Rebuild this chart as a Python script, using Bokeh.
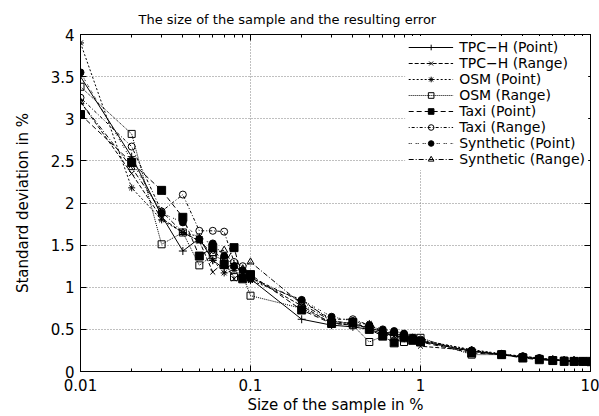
from bokeh.plotting import figure
from bokeh.models import (LogAxis, LinearAxis, FixedTicker, CustomJSTickFormatter,
                          CustomLabelingPolicy, Range1d, Legend, LegendItem, Title)
from bokeh.embed import file_html
from bokeh.resources import INLINE

# ---------------- data ----------------
sample_size = [0.01, 0.02, 0.03, 0.04, 0.05, 0.06, 0.07, 0.08, 0.09, 0.1,
               0.2, 0.3, 0.4, 0.5, 0.6, 0.7, 0.8, 0.9, 1,
               2, 3, 4, 5, 6, 7, 8, 9, 10]

tpch_point = [3.50, 2.55, 1.85, 1.43, 1.58, 1.32, 1.22, 1.28, 1.15, 1.10,
              0.62, 0.55, 0.53, 0.50, 0.45, 0.43, 0.40, 0.38, 0.36,
              0.24, 0.20, 0.17, 0.15, 0.14, 0.13, 0.13, 0.12, 0.12]
tpch_range = [3.20, 2.35, 1.82, 1.65, 1.55, 1.18, 1.30, 1.10, 1.15, 1.12,
              0.78, 0.57, 0.55, 0.52, 0.47, 0.42, 0.40, 0.38, 0.30,
              0.25, 0.20, 0.17, 0.15, 0.14, 0.13, 0.13, 0.12, 0.12]
osm_point = [3.90, 2.18, 1.80, 1.65, 1.60, 1.32, 1.17, 1.20, 1.13, 1.08,
             0.85, 0.60, 0.56, 0.57, 0.45, 0.46, 0.42, 0.39, 0.37,
             0.26, 0.21, 0.18, 0.16, 0.14, 0.13, 0.13, 0.12, 0.12]
osm_range = [3.38, 2.82, 1.51, 1.65, 1.26, 1.38, 1.32, 1.12, 1.14, 0.90,
             0.75, 0.58, 0.55, 0.35, 0.42, 0.44, 0.35, 0.40, 0.40,
             0.20, 0.20, 0.17, 0.15, 0.13, 0.13, 0.12, 0.12, 0.11]
taxi_point = [3.05, 2.48, 2.15, 1.83, 1.37, 1.47, 1.27, 1.47, 1.10, 1.15,
              0.73, 0.57, 0.58, 0.50, 0.42, 0.34, 0.40, 0.37, 0.35,
              0.22, 0.20, 0.16, 0.14, 0.13, 0.12, 0.12, 0.12, 0.12]
taxi_range = [3.25, 2.67, 1.90, 2.10, 1.67, 1.67, 1.66, 1.30, 1.25, 1.12,
              0.83, 0.62, 0.62, 0.55, 0.48, 0.46, 0.44, 0.40, 0.38,
              0.25, 0.20, 0.18, 0.15, 0.14, 0.13, 0.13, 0.12, 0.12]
synth_point = [3.55, 2.50, 1.88, 1.77, 1.57, 1.52, 1.37, 1.25, 1.20, 1.10,
               0.85, 0.65, 0.60, 0.55, 0.50, 0.48, 0.45, 0.40, 0.37,
               0.25, 0.21, 0.18, 0.16, 0.14, 0.13, 0.13, 0.12, 0.12]
synth_range = [3.20, 2.42, 1.90, 1.65, 1.55, 1.40, 1.44, 1.25, 1.22, 1.30,
               0.80, 0.60, 0.57, 0.52, 0.47, 0.45, 0.42, 0.38, 0.36,
               0.24, 0.20, 0.17, 0.15, 0.14, 0.13, 0.13, 0.12, 0.12]

series_names = ["TPC\u2212H (Point)", "TPC\u2212H (Range)", "OSM (Point)", "OSM (Range)",
                "Taxi (Point)", "Taxi (Range)", "Synthetic (Point)", "Synthetic (Range)"]
series_values = [tpch_point, tpch_range, osm_point, osm_range,
                 taxi_point, taxi_range, synth_point, synth_range]

x_major_ticks = [0.01, 0.1, 1, 10]
x_minor_ticks = [0.02, 0.03, 0.04, 0.05, 0.06, 0.07, 0.08, 0.09,
                 0.2, 0.3, 0.4, 0.5, 0.6, 0.7, 0.8, 0.9,
                 2, 3, 4, 5, 6, 7, 8, 9]
y_major_ticks = [0, 0.5, 1, 1.5, 2, 2.5, 3, 3.5, 4]

title_text = "The size of the sample and the resulting error"
x_label = "Size of the sample in %"
y_label = "Standard deviation in %"

# ---------------- styles ----------------
styles = [
    dict(dash="solid", marker="cross", size=8, fill=None),
    dict(dash="4 2", marker="x", size=7, fill=None),
    dict(dash="2 2", marker="asterisk", size=7, fill=None),
    dict(dash="1 1", marker="square", size=7, fill=None),
    dict(dash="5 3", marker="square", size=8, fill="black"),
    dict(dash="1 2 3 2", marker="circle", size=7, fill=None),
    dict(dash="1 1 1 4", marker="circle", size=7, fill="black"),
    dict(dash="5 2 1 2", marker="triangle", size=7, fill=None),
]

FONT = "DejaVu Sans"

p = figure(width=599, height=416, x_axis_type="log",
           x_range=Range1d(0.01, 10), y_range=Range1d(0, 4),
           output_backend="svg", toolbar_location=None,
           min_border_left=80, min_border_right=9,
           min_border_top=34, min_border_bottom=44)

p.title = Title(text=title_text, align="left", offset=58,
                text_font_size="13px", text_font=FONT, text_font_style="normal",
                text_color="black", standoff=16)

fmt = CustomJSTickFormatter(code="return String(parseFloat(tick.toPrecision(6)));")
no_labels = CustomLabelingPolicy(code="return new Set();")
xt = FixedTicker(ticks=x_major_ticks, minor_ticks=x_minor_ticks)
yt = FixedTicker(ticks=y_major_ticks, minor_ticks=[])


def style_axis(ax, show_labels):
    ax.axis_line_color = "black"
    ax.major_tick_in = 6
    ax.major_tick_out = 0
    ax.minor_tick_in = 3
    ax.minor_tick_out = 0
    ax.major_tick_line_color = "black"
    ax.minor_tick_line_color = "black"
    if show_labels:
        ax.major_label_text_font = FONT
        ax.major_label_text_font_size = "15px"
        ax.major_label_text_color = "black"
        ax.axis_label_text_font = FONT
        ax.axis_label_text_font_size = "15px"
        ax.axis_label_text_font_style = "normal"
        ax.axis_label_text_color = "black"
    else:
        ax.major_label_policy = no_labels
        ax.major_label_text_font_size = "0px"
        ax.major_label_standoff = 0


xa = p.xaxis[0]
xa.ticker = xt
xa.formatter = fmt
xa.axis_label = x_label
xa.major_label_standoff = 7
xa.axis_label_standoff = 2
style_axis(xa, True)

ya = p.yaxis[0]
ya.ticker = yt
ya.formatter = fmt
ya.axis_label = y_label
ya.major_label_standoff = 6
ya.axis_label_standoff = 16
style_axis(ya, True)

top = LogAxis(ticker=xt, formatter=fmt)
style_axis(top, False)
p.add_layout(top, "above")
right = LinearAxis(ticker=yt, formatter=fmt)
style_axis(right, False)
p.add_layout(right, "right")

p.xgrid.ticker = FixedTicker(ticks=x_major_ticks)
p.ygrid.ticker = FixedTicker(ticks=y_major_ticks)
for g in (p.xgrid[0], p.ygrid[0]):
    g.grid_line_color = "#808080"
    g.grid_line_dash = "1 2"
    g.grid_line_width = 1
p.outline_line_color = "black"
p.background_fill_color = "white"
p.border_fill_color = "white"

items = []
for name, vals, st in zip(series_names, series_values, styles):
    lr = p.line(sample_size, vals, line_color="black", line_width=1,
                line_dash=st["dash"])
    sr = p.scatter(sample_size, vals, marker=st["marker"], size=st["size"],
                   line_color="black", line_width=1,
                   fill_color=st["fill"] if st["fill"] else "white",
                   fill_alpha=1 if st["fill"] else 0)
    items.append(LegendItem(label=name, renderers=[lr, sr]))

legend = Legend(items=items, location="top_right",
                background_fill_color="white", background_fill_alpha=1,
                border_line_alpha=0, label_text_font=FONT,
                label_text_font_size="14px", label_text_color="black",
                glyph_width=45, glyph_height=14, label_height=14,
                spacing=0, padding=3, margin=2, label_standoff=6)
p.add_layout(legend)

open("out.html", "w").write(file_html(p, INLINE))
